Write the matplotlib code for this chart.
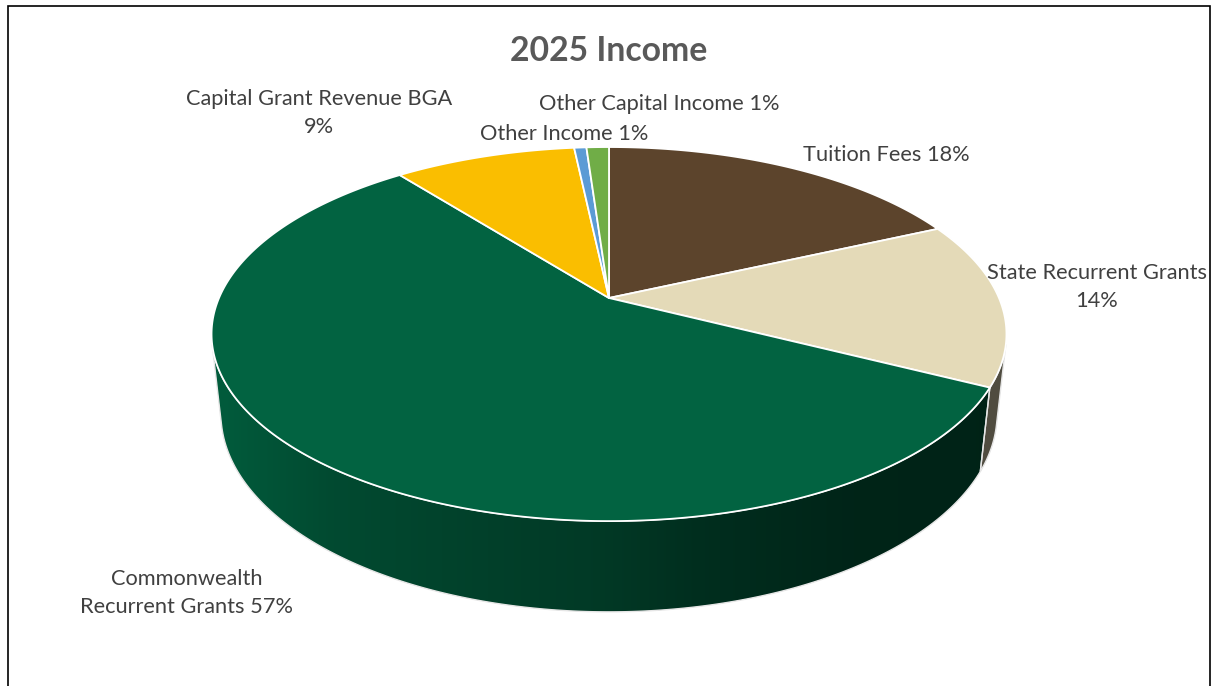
import numpy as np
import matplotlib.pyplot as plt
from matplotlib.colors import to_rgb
from matplotlib.patches import Polygon

plt.rcParams["font.family"] = ["Lato", "DejaVu Sans"]

# income shares (percent), clockwise from 12 o'clock
categories = [
    "Tuition Fees",
    "State Recurrent Grants",
    "Commonwealth\nRecurrent Grants",
    "Capital Grant Revenue BGA",
    "Other Income",
    "Other Capital Income",
]
shares = [18.2, 14.3, 56.9, 8.9, 0.6, 1.1]
slice_colors = ["#5C442C", "#E4DAB8", "#026341", "#FABE00", "#5B9BD5", "#70AD47"]

# label placement (pixel coords, baseline of last line) and name/percent separator
LABEL_POS = [(886, 161), (1097, 307), (187, 613), (319, 133), (564, 140), (659, 110)]
LABEL_SEP = [" ", "\n", " ", "\n", " ", " "]

# simple perspective view of a disc of radius 1
CX, CY = 609, 298
R = 390
TILT = np.radians(27.5)
DIST = 4.6
DEPTH = 0.233


def project(theta, z=0.0):
    x = np.sin(theta)
    y = np.cos(theta)
    d = DIST + y * np.cos(TILT) - z * np.sin(TILT)
    u = x * DIST / d
    v = (y * np.sin(TILT) + z * np.cos(TILT)) * DIST / d
    return CX + R * u, CY - R * v


def wall_shade(x):
    f = (x - (CX - 1.02 * R)) / (2.04 * R)
    return np.interp(f, [0, 0.02, 0.15, 0.36, 0.49, 0.61, 0.8, 1.0],
                     [0.93, 0.91, 0.75, 0.64, 0.58, 0.47, 0.37, 0.35])


fig = plt.figure(figsize=(12.11, 6.86), dpi=100)
ax = fig.add_axes([0, 0, 1, 1])
ax.set_xlim(0, 1211)
ax.set_ylim(686, 0)
ax.axis("off")

fracs = np.array(shares) / sum(shares)
edges = np.concatenate([[0], np.cumsum(fracs)]) * 2 * np.pi

# front-facing part of the side wall, shaded left to right
c = 1.0 / (DIST * np.cos(TILT))
vis_lo, vis_hi = np.arccos(-c), 2 * np.pi - np.arccos(-c)
xgrid = np.arange(150, 1070)
for a, b, col in zip(edges[:-1], edges[1:], slice_colors):
    lo, hi = max(a, vis_lo), min(b, vis_hi)
    if hi <= lo:
        continue
    t = np.linspace(lo, hi, max(3, int(np.degrees(hi - lo) * 2)))
    xt, yt = project(t)
    xb, yb = project(t, -DEPTH)
    outline = np.column_stack([np.concatenate([xt, xb[::-1]]), np.concatenate([yt, yb[::-1]])])
    wall = Polygon(outline, closed=True, facecolor="none", edgecolor="#e6e6e6", lw=1.0, zorder=2)
    ax.add_patch(wall)
    shade = np.array(to_rgb(col))[None, :] * wall_shade(xgrid + 0.5)[:, None]
    img = ax.imshow(shade[None, :, :], extent=(xgrid[0], xgrid[-1] + 1, 660, 150),
                    aspect="auto", interpolation="bilinear", zorder=1)
    img.set_clip_path(wall)

# top face
for a, b, col in zip(edges[:-1], edges[1:], slice_colors):
    t = np.linspace(a, b, max(3, int(np.degrees(b - a) * 2)))
    xs, ys = project(t)
    pts = np.column_stack([np.concatenate([[CX], xs]), np.concatenate([[CY], ys])])
    ax.add_patch(Polygon(pts, closed=True, facecolor=col, edgecolor="white", lw=1.3,
                         joinstyle="round", zorder=3))

ax.set_xlim(0, 1211)
ax.set_ylim(686, 0)

# data labels
for name, sep, share, (lx, ly) in zip(categories, LABEL_SEP, shares, LABEL_POS):
    ax.text(lx, ly, f"{name}{sep}{share:.0f}%", ha="center", va="baseline",
            fontsize=15.7, color="#404040", linespacing=1.5)

ax.text(609, 61, "2025 Income", ha="center", va="baseline", fontsize=24.3,
        fontweight="bold", color="#595959")

# chart border
ax.plot([7.5, 7.5, 1209.5, 1209.5], [700, 5.5, 5.5, 700], color="black", lw=1.2,
        solid_joinstyle="miter")

fig.savefig("out.png", dpi=100)
